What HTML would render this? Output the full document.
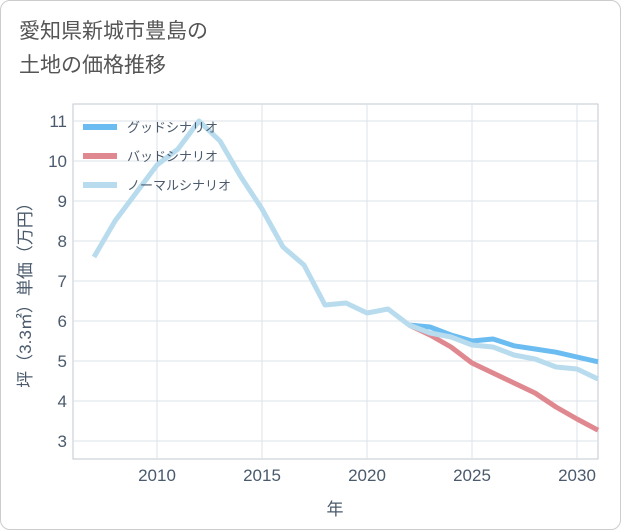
<!DOCTYPE html>
<html><head><meta charset="utf-8"><style>
body{margin:0;background:#fff;}
#card{position:absolute;left:0;top:0;width:619px;height:528px;border:1px solid #ccc;border-radius:10px;background:#fff;overflow:hidden;}
#title{position:absolute;left:18px;top:14px;font:21px/34px "Liberation Sans","Noto Sans CJK JP",sans-serif;color:#555;}
svg text{font-family:"Liberation Sans","Noto Sans CJK JP",sans-serif;}
</style></head><body>
<div id="card">
<div id="title">愛知県新城市豊島の<br>土地の価格推移</div>
<svg id="chart" width="621" height="530" style="position:absolute;left:0;top:0"></svg>
</div>
<script>
const years=[2007,2008,2009,2010,2011,2012,2013,2014,2015,2016,2017,2018,2019,2020,2021,2022,2023,2024,2025,2026,2027,2028,2029,2030,2031];
const normal=[7.6,8.5,9.2,9.9,10.3,11.0,10.5,9.6,8.8,7.85,7.4,6.4,6.45,6.2,6.3,5.9,5.7,5.6,5.4,5.35,5.15,5.05,4.85,4.8,4.55];
const fyears=[2022,2023,2024,2025,2026,2027,2028,2029,2030,2031];
const good=[5.9,5.85,5.65,5.5,5.55,5.38,5.3,5.22,5.1,4.98];
const bad=[5.9,5.65,5.35,4.95,4.7,4.45,4.2,3.85,3.55,3.27];
const xTicks=[2010,2015,2020,2025,2030];
const yTicks=[3,4,5,6,7,8,9,10,11];
const L=72,R=597,T=103,B=458;
const TXT='#4a5a6c';
const x=v=>156+(v-2010)*21;
const y=v=>120+(11-v)*40;
const svg=document.getElementById('chart');
const NS='http://www.w3.org/2000/svg';
function mk(t,a,p){const e=document.createElementNS(NS,t);for(const k in a)e.setAttribute(k,a[k]);(p||svg).appendChild(e);return e;}
const bg=mk('rect',{x:L,y:T,width:R-L,height:B-T,fill:'#fff',stroke:'#c0c8d0'});


yTicks.forEach(v=>{
 const g=mk('line',{x1:L,x2:R,y1:y(v),y2:y(v),stroke:'#dde3ea'});
 
 
 const t=mk('text',{x:L-6,y:y(v)+6,'text-anchor':'end','font-size':17,fill:TXT});t.textContent=v;
 
 
});
xTicks.forEach(v=>{
 const g=mk('line',{x1:x(v),x2:x(v),y1:T,y2:B,stroke:'#dde3ea'});
 
 
 const t=mk('text',{x:x(v),y:B+22,'text-anchor':'middle','font-size':17,fill:TXT});t.textContent=v;
 
 
});
function line(xs,vs,c,name){
 const p=mk('polyline',{points:xs.map((a,i)=>x(a)+','+y(vs[i])).join(' '),fill:'none',stroke:c,'stroke-width':5,'stroke-linejoin':'round'});
 
 
}
line(fyears,good,'#6bbcf0','good-scenario-line');
line(fyears,bad,'#e08890','bad-scenario-line');
line(years,normal,'#b8dcee','normal-scenario-line');
[['グッドシナリオ','#6bbcf0'],['バッドシナリオ','#e08890'],['ノーマルシナリオ','#b8dcee']].forEach((d,i)=>{
 const yy=126+i*29;
 const l=mk('line',{x1:82,x2:116,y1:yy,y2:yy,stroke:d[1],'stroke-width':6});
 
 
 const t=mk('text',{x:126,y:yy+5,'font-size':13,fill:TXT});t.textContent=d[0];
 
 
});
const xt=mk('text',{x:334,y:514,'text-anchor':'middle','font-size':17,fill:TXT});xt.textContent='年';


const yt=mk('text',{x:0,y:0,'text-anchor':'middle','font-size':17,fill:TXT,transform:'translate(30,290) rotate(-90)'});yt.textContent='坪（3.3㎡）単価（万円）';


</script>
</body></html>
